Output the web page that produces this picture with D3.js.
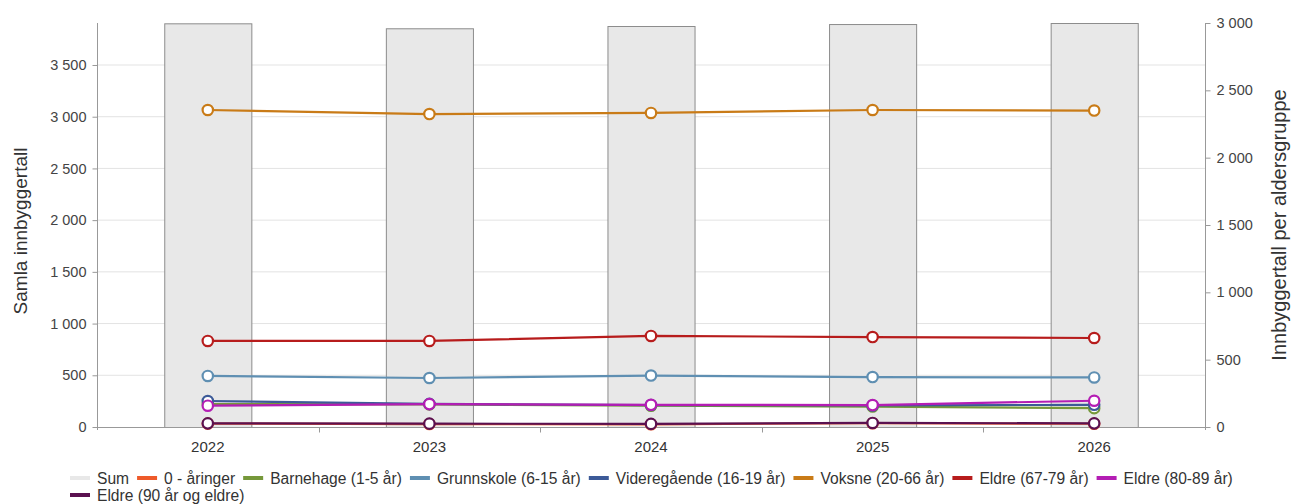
<!DOCTYPE html>
<html><head><meta charset="utf-8">
<script src="https://cdn.jsdelivr.net/npm/d3@7"></script>
<style>
body{margin:0;background:#fff;}
svg{display:block;font-family:"Liberation Sans",Arial,sans-serif;}
</style></head>
<body><svg id="c" width="1291" height="504"></svg>
<script>
const years = ["2022","2023","2024","2025","2026"];
const sumValues = [3903, 3855, 3877, 3896, 3906];
const leftTicks = [0,500,1000,1500,2000,2500,3000,3500];
const rightTicks = [0,500,1000,1500,2000,2500,3000];
const seriesNames = ["0 - åringer","Barnehage (1-5 år)","Grunnskole (6-15 år)","Videregående (16-19 år)","Voksne (20-66 år)","Eldre (67-79 år)","Eldre (80-89 år)","Eldre (90 år og eldre)"];
const seriesColors = ["#ee5a2a","#76983a","#5f8fb2","#3c5a98","#c97b17","#b71c1c","#b41db4","#5b1150"];
const v0 = [25, 22, 20, 28, 24];
const v1 = [170, 168, 158, 152, 140];
const v2 = [379, 364, 382, 371, 368];
const v3 = [193, 172, 163, 160, 165];
const v4 = [2354, 2324, 2332, 2354, 2350];
const v5 = [639, 639, 676, 668, 661];
const v6 = [158, 170, 165, 163, 195];
const v7 = [27, 25, 23, 30, 27];
const seriesValues = [v0,v1,v2,v3,v4,v5,v6,v7];

const svg = d3.select("#c");
const L = 97, R = 1205, T = 23, B = 427;
const x = d3.scaleBand().domain(years).range([L,R]).padding(0);
const yL = d3.scaleLinear().domain([0, d3.max(sumValues)]).range([B,T]);
const yR = d3.scaleLinear().domain([0, 3000]).range([B,T]);

// grid
svg.append("g").selectAll("line").data(leftTicks.slice(1)).join("line")
  .attr("x1",L).attr("x2",R).attr("y1",d=>yL(d)).attr("y2",d=>yL(d))
  .attr("stroke","#e3e3e3").attr("stroke-width",1);

// bars
const bw = x.bandwidth()*0.393;
svg.append("g").selectAll("rect").data(years).join("rect")
  .attr("x",(d)=>x(d)+x.bandwidth()/2-bw/2+0.5)
  .attr("y",(d,i)=>yL(sumValues[i])+0.5)
  .attr("width",bw).attr("height",(d,i)=>B-yL(sumValues[i]))
  .attr("fill","#e8e8e8").attr("stroke","#8c8c8c").attr("stroke-width",1);

// axes
const fmt = d=>d3.format(",")(d).replace(/,/g," ");
const axL = svg.append("g").attr("transform",`translate(${L+0.5},0)`)
  .call(d3.axisLeft(yL).tickValues(leftTicks).tickSize(5).tickPadding(6).tickFormat(fmt));
const axR = svg.append("g").attr("transform",`translate(${R+0.5},0)`)
  .call(d3.axisRight(yR).tickValues(rightTicks).tickSize(5).tickPadding(6).tickFormat(fmt));
[axL,axR].forEach(a=>{
  a.select(".domain").attr("stroke","#999").attr("d", `M0,${T}V${B+3}`);
  a.selectAll(".tick line").attr("stroke","#999");
  a.selectAll(".tick text").attr("fill","#444").style("font-size","14.5px").style("font-family","'Liberation Sans',Arial,sans-serif");
});
// x axis
const axB = svg.append("g").attr("transform",`translate(0,${B+0.5})`);
axB.append("line").attr("x1",L).attr("x2",R).attr("stroke","#999");
axB.selectAll(".bt").data(years.slice(1)).join("line").attr("class","bt")
  .attr("x1",d=>Math.round(x(d))+0.5).attr("x2",d=>Math.round(x(d))+0.5).attr("y1",0).attr("y2",5).attr("stroke","#999");
axB.selectAll("text").data(years).join("text")
  .attr("x",d=>x(d)+x.bandwidth()/2).attr("y",24).attr("text-anchor","middle")
  .attr("fill","#333").style("font-size","15px").text(d=>d);

// axis titles
svg.append("text").attr("transform",`translate(27,${(T+B)/2+6}) rotate(-90)`).attr("text-anchor","middle")
  .attr("fill","#333").style("font-size","19px").text("Samla innbyggertall");
svg.append("text").attr("transform",`translate(1286,${(T+B)/2}) rotate(-90)`).attr("text-anchor","middle")
  .attr("fill","#333").style("font-size","20px").text("Innbyggertall per aldersgruppe");

// lines
const line = d3.line().x((d,i)=>x(years[i])+x.bandwidth()/2).y(d=>yR(d));
seriesValues.forEach((vals,k)=>{
  const g = svg.append("g");
  g.append("path").datum(vals).attr("d",line).attr("fill","none")
    .attr("stroke",seriesColors[k]).attr("stroke-width",2.2);
  g.selectAll("circle").data(vals).join("circle")
    .attr("cx",(d,i)=>x(years[i])+x.bandwidth()/2).attr("cy",d=>yR(d)).attr("r",5.2)
    .attr("fill","#fff").attr("stroke",seriesColors[k]).attr("stroke-width",2.2);
});

// legend
const legItems = [{name:"Sum",color:"#e8e8e8"}].concat(seriesNames.map((n,i)=>({name:n,color:seriesColors[i]})));
const lg = svg.append("g");
let lx = 70, ly = 478;
legItems.forEach(it=>{
  const g = lg.append("g");
  const t = g.append("text").attr("x",lx+27).attr("y",ly+5.5).attr("fill","#333").style("font-size","15.6px").text(it.name);
  const w = t.node().getComputedTextLength();
  if (lx+27+w > 1245) {
    lx = 70; ly += 17;
    t.attr("x",lx+27).attr("y",ly+5.5);
  }
  g.append("line").attr("x1",lx).attr("x2",lx+20).attr("y1",ly).attr("y2",ly)
    .attr("stroke",it.color).attr("stroke-width",4);
  lx += 27 + w + 8;
});
</script></body></html>
